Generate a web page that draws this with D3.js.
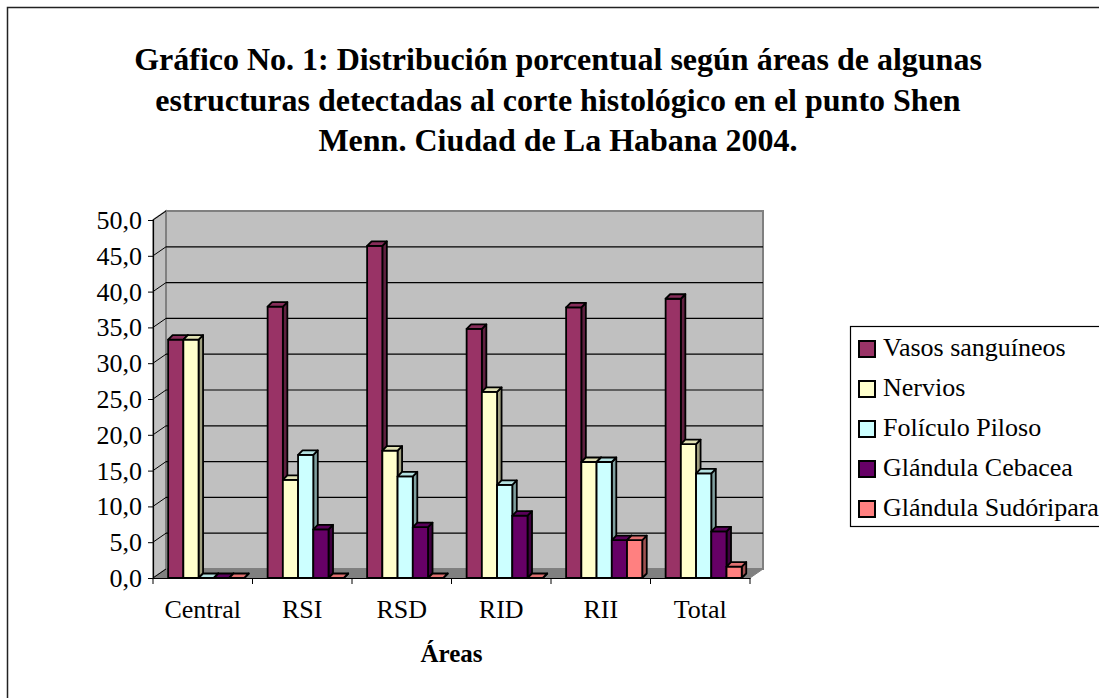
<!DOCTYPE html>
<html>
<head>
<meta charset="utf-8">
<script src="https://cdn.jsdelivr.net/npm/d3@7"></script>
<style>
  html, body { margin: 0; padding: 0; background: #fff; }
  svg { display: block; }
  svg text { font-family: "Liberation Serif", "Times New Roman", Times, serif !important; }
</style>
</head>
<body>
<svg id="chart" width="1099" height="698"></svg>
<script>
// ---- data ----
const categories = ["Central", "RSI", "RSD", "RID", "RII", "Total"];
const seriesNames = ["Vasos sanguíneos", "Nervios", "Folículo Piloso", "Glándula Cebacea", "Glándula Sudóripara"];
const vasos      = [33.3, 37.9, 46.4, 34.8, 37.8, 39.0];
const nervios    = [33.3, 13.7, 17.8, 26.0, 16.2, 18.7];
const foliculo   = [0.0, 17.2, 14.2, 13.0, 16.2, 14.6];
const cebacea    = [0.0, 6.8, 7.1, 8.7, 5.3, 6.5];
const sudoripara = [0.0, 0.0, 0.0, 0.0, 5.3, 1.6];
const yTicks = [0, 5, 10, 15, 20, 25, 30, 35, 40, 45, 50];
const titleLines = [
  "Gráfico No. 1: Distribución porcentual según áreas de algunas",
  "estructuras detectadas al corte histológico en el punto Shen",
  "Menn. Ciudad de La Habana 2004."
];
const xTitle = "Áreas";
const colors = ["#993366", "#FFFFCC", "#CCFFFF", "#660066", "#FF8080"];

const series = [vasos, nervios, foliculo, cebacea, sudoripara];
const FONT = '"Liberation Serif", "Times New Roman", Times, serif';

// ---- layout ----
const svg = d3.select("#chart").style("font-family", FONT);
const x0 = 153, x1 = 750, yBottom = 578, yTop = 220;
const depthX = 13, depthY = 9;      // wall depth
const bdx = 4.5, bdy = 4.5;         // bar depth

const x = d3.scaleBand().domain(categories).range([x0, x1]).padding(0);
const y = d3.scaleLinear().domain([0, 50]).range([yBottom, yTop]);
const bw = x.bandwidth();
const barW = bw * 0.153;
const barOff = bw * 0.152;

// outer border
svg.append("rect").attr("x", 7.5).attr("y", 7.5).attr("width", 1200).attr("height", 800)
  .attr("fill", "none").attr("stroke", "#222").attr("stroke-width", 1.5);

// title
const title = svg.append("text").attr("text-anchor", "middle").style("font-family", FONT)
  .attr("font-weight", "bold").attr("font-size", 32).attr("fill", "#000");
titleLines.forEach((t, i) => {
  title.append("tspan").attr("x", 558).attr("y", 70 + i * 40.5).style("font-family", FONT).text(t);
});

// side wall (left)
svg.append("path")
  .attr("d", `M${x0},${y(0)} L${x0},${y(50)} L${x0 + depthX},${y(50) - depthY} L${x0 + depthX},${y(0) - depthY} Z`)
  .attr("fill", "#C0C0C0").attr("stroke", "#808080").attr("stroke-width", 1.5);
// back wall
svg.append("rect")
  .attr("x", x0 + depthX).attr("y", y(50) - depthY)
  .attr("width", x1 - x0).attr("height", y(0) - y(50))
  .attr("fill", "#C0C0C0").attr("stroke", "#808080").attr("stroke-width", 2);
// floor
svg.append("path")
  .attr("d", `M${x0},${y(0)} L${x1},${y(0)} L${x1 + depthX},${y(0) - depthY} L${x0 + depthX},${y(0) - depthY} Z`)
  .attr("fill", "#808080").attr("stroke", "#808080").attr("stroke-width", 1);

// gridlines on back wall + diagonals on side wall
yTicks.forEach(v => {
  if (v > 0 && v < 50) {
    svg.append("line")
      .attr("x1", x0 + depthX).attr("x2", x1 + depthX)
      .attr("y1", y(v) - depthY).attr("y2", y(v) - depthY)
      .attr("stroke", "#000").attr("stroke-width", 1.2);
  }
  svg.append("line")
    .attr("x1", x0).attr("y1", y(v))
    .attr("x2", x0 + depthX).attr("y2", y(v) - depthY)
    .attr("stroke", "#000").attr("stroke-width", 1);
});

// y axis
const yAxis = d3.axisLeft(y).tickValues(yTicks).tickSize(5).tickPadding(6)
  .tickFormat(d => d3.format(".1f")(d).replace(".", ","));
const gy = svg.append("g").attr("transform", `translate(${x0},0)`).call(yAxis);
gy.attr("font-family", null).style("font-family", FONT);
gy.select(".domain").attr("stroke", "#000").attr("stroke-width", 1.2);
gy.selectAll(".tick line").attr("stroke", "#000");
gy.selectAll(".tick text").attr("font-size", 26).style("font-family", FONT)
  .attr("fill", "#000").attr("dy", "0.33em");

// bars
categories.forEach((c, ci) => {
  series.forEach((s, si) => {
    const v = s[ci];
    const bx = x(c) + barOff + si * barW;
    const yv = y(v), yb = y(0);
    const base = d3.color(colors[si]);
    const g = svg.append("g").attr("stroke", "#000").attr("stroke-width", 1.8).attr("stroke-linejoin", "round");
    // side
    g.append("path")
      .attr("d", `M${bx + barW},${yv} L${bx + barW + bdx},${yv - bdy} L${bx + barW + bdx},${yb - bdy} L${bx + barW},${yb} Z`)
      .attr("fill", base.darker(1.3).formatHex());
    // front
    if (v > 0) {
      g.append("rect").attr("x", bx).attr("y", yv).attr("width", barW).attr("height", yb - yv)
        .attr("fill", colors[si]);
    }
    // top
    g.append("path")
      .attr("d", `M${bx},${yv} L${bx + bdx},${yv - bdy} L${bx + barW + bdx},${yv - bdy} L${bx + barW},${yv} Z`)
      .attr("fill", base.darker(0.35).formatHex());
  });
});

// x axis
const xAxis = d3.axisBottom(x).tickSize(0).tickPadding(20);
const gx = svg.append("g").attr("transform", `translate(0,${y(0)})`).call(xAxis);
gx.attr("font-family", null).style("font-family", FONT);
gx.select(".domain").attr("stroke", "#000").attr("stroke-width", 1.2);
gx.selectAll(".tick text").attr("font-size", 26).style("font-family", FONT).attr("fill", "#000")
  .attr("dy", "0.75em");
// category boundary ticks
const bounds = categories.map(c => x(c)).concat([x1]);
svg.append("g").selectAll("line").data(bounds).join("line")
  .attr("x1", d => d).attr("x2", d => d).attr("y1", y(0)).attr("y2", y(0) + 6)
  .attr("stroke", "#000").attr("stroke-width", 1);

// x title
svg.append("text").attr("x", (x0 + x1) / 2).attr("y", 662).attr("text-anchor", "middle")
  .style("font-family", FONT).attr("font-weight", "bold").attr("font-size", 25).text(xTitle);

// legend
const lg = svg.append("g");
lg.append("rect").attr("x", 850.5).attr("y", 326.5).attr("width", 300).attr("height", 200)
  .attr("fill", "#fff").attr("stroke", "#000").attr("stroke-width", 1.2);
seriesNames.forEach((n, i) => {
  const cy = 349 + i * 40;
  lg.append("rect").attr("x", 859).attr("y", cy - 8).attr("width", 16).attr("height", 16)
    .attr("fill", colors[i]).attr("stroke", "#000").attr("stroke-width", 2);
  lg.append("text").attr("x", 883).attr("y", cy + 7).style("font-family", FONT)
    .attr("font-size", 26).attr("fill", "#000").text(n);
});
</script>
</body>
</html>
